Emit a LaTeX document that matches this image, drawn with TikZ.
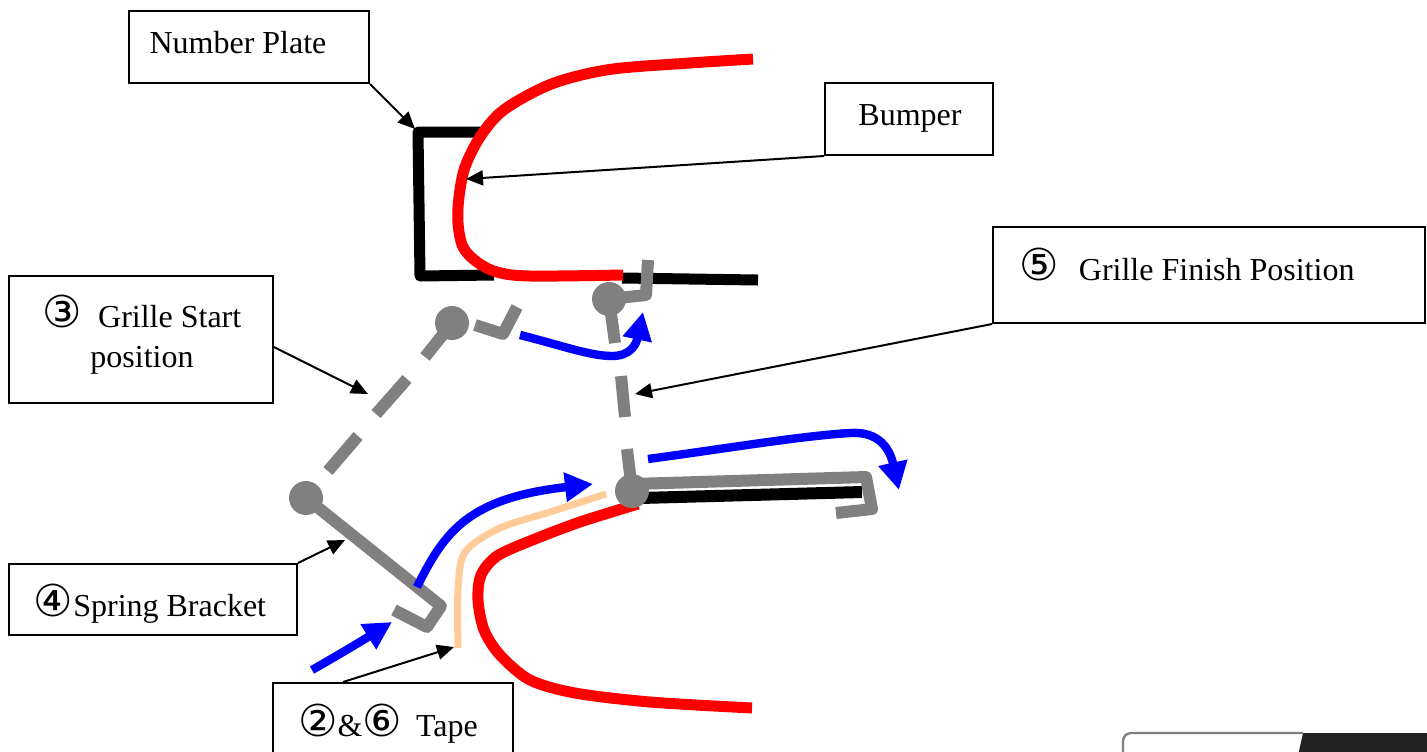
\documentclass[tikz,border=0pt]{standalone}
\usepackage{fontspec}
\setmainfont{Liberation Serif}
\newfontfamily\circfont{DejaVu Sans}
\usetikzlibrary{arrows.meta, positioning}
\newcommand{\numcirc}[1]{{\circfont\fontsize{22}{20}\selectfont #1}}
\definecolor{tapecol}{HTML}{FFCC99}

\begin{document}
\begin{tikzpicture}[x=0.5pt,y=-0.5pt,font=\fontsize{16}{20}\selectfont]
    \tikzstyle{box}=[shape=rectangle,draw,line width=1pt,inner sep=0pt]
    \tikzstyle{txt}=[inner sep=0pt,align=center]
    \tikzstyle{pointer}=[draw,line width=1pt,-{Triangle[length=8.5pt,width=7.5pt]}]
    \tikzstyle{bumperline}=[draw=red,line width=5.5pt]
    \tikzstyle{blackline}=[draw=black,line width=5.5pt]
    \tikzstyle{grille}=[draw=gray,line width=6pt,line join=round]
    \tikzstyle{move}=[draw=blue,line width=4.2pt,-{Triangle[length=14pt,width=14pt]}]
    \tikzstyle{pivot}=[shape=circle,fill=gray,minimum size=17pt,inner sep=0pt]

    \useasboundingbox (0,0) rectangle (1427,751);

    % number plate and upper bumper
    \draw[blackline,line join=round] (480,132) -- (418,132) -- (420,276) -- (494,275);
    \draw[blackline] (622,278) -- (758,280);
    \draw[bumperline] plot[smooth,tension=0.55] coordinates {(753,59) (690,63) (613,69) (563,80) (530,94)
      (500,113) (480,137) (465,167) (459,197) (458,223) (463,247) (477,262) (497,272) (530,276) (623,275)};

    % lower bumper and tape
    \draw[blackline,line width=6pt] (640,498) -- (862,492);
    \draw[bumperline] plot[smooth,tension=0.5] coordinates {(638,504) (580,522) (530,541) (497,556)
      (481,575) (478,600) (484,630) (500,655) (530,680) (575,693) (650,702) (752,708)};
    \draw[draw=tapecol,line width=3.5pt,line join=round] plot[smooth,tension=0.5] coordinates {(458,648) (458,590)
      (465,552) (500,528) (550,512) (606,494)};

    % grille, start position
    \draw[grille] (306,498) -- (441,606) -- (427,627) -- (394,610);
    \draw[grille] (328,471) -- (358,436);
    \draw[grille] (376,414) -- (407,379);
    \draw[grille] (425,357) -- (452,323);
    \draw[grille] (475,325) -- (503,334) -- (517,307);
    \node[pivot] (P1) at (306,498) {};
    \node[pivot] (P2) at (452,323) {};

    % grille, finish position
    \draw[grille] (609,299) -- (615,343);
    \draw[grille] (621,376) -- (625,417);
    \draw[grille] (627,449) -- (632,491);
    \draw[grille] (609,299) -- (646,295) -- (648,260);
    \draw[grille] (632,484) -- (866,477) -- (872,509) -- (836,513);
    \node[pivot] (P3) at (609,299) {};
    \node[pivot] (P4) at (632,491) {};

    % movement
    \draw[move] (312,670) .. controls (340,654) and (360,642) .. (392,622);
    \draw[move] (417,587) .. controls (445,530) and (470,498) .. (593,484);
    \draw[move] (520,335) .. controls (560,345) and (590,356) .. (612,356) .. controls (630,356) and (636,345) .. (643,312);
    \draw[move] (648,459) .. controls (730,448) and (800,436) .. (850,433) .. controls (880,431) and (890,450) .. (899,490);

    % labels
    \node[box,minimum width=120pt,minimum height=36pt] (plateBox) at (249,47) {};
    \node[txt] (plateTxt) at (238,43) {Number Plate};
    \node[box,minimum width=84pt,minimum height=36pt] (bumperBox) at (909,119) {};
    \node[txt] (bumperTxt) at (910,118) {Bumper};
    \node[box,minimum width=132pt,minimum height=63.5pt] (startBox) at (141,339.5) {};
    \node[txt] (startTxt) at (142,335) {\numcirc{③}\hspace{8pt}Grille Start\\position};
    \node[box,minimum width=216pt,minimum height=48pt] (finishBox) at (1209,275) {};
    \node[txt] (finishTxt) at (1187,264) {\numcirc{⑤}\hspace{10pt}Grille Finish Position};
    \node[box,minimum width=144pt,minimum height=35.5pt] (springBox) at (153,599.5) {};
    \node[txt] (springTxt) at (150,604) {\numcirc{④}Spring Bracket};
    \node[box,minimum width=120pt,minimum height=50pt] (tapeBox) at (393,733) {};
    \node[txt] (tapeTxt) at (388,724) {\numcirc{②}\&\numcirc{⑥}\hspace{7pt}Tape};

    \coordinate (plateTip) at (415,129);
    \coordinate (bumperTip) at (466,179);
    \coordinate (startTip) at (368,394);
    \coordinate (finishTip) at (635,394);
    \coordinate (springTip) at (345,540);
    \coordinate (tapeTip) at (454,647);

    \path[pointer] (plateBox.south east) -- (plateTip);
    \path[pointer] (bumperBox.south west) -- (bumperTip);
    \path[pointer] ([yshift=-3.75pt]startBox.east) -- (startTip);
    \path[pointer] (finishBox.south west) -- (finishTip);
    \path[pointer] (springBox.north east) -- (springTip);
    \path[pointer] ([xshift=-25pt]tapeBox.north) -- (tapeTip);

    % corner of the logo, cut by the page edge
    \fill[fill=black!87] (1303,733) -- (1427,733) -- (1427,760) -- (1297,760) -- cycle;
    \draw[draw=gray,line width=1.2pt,rounded corners=4pt] (1123,760) -- (1123,733) -- (1303,733);
\end{tikzpicture}
\end{document}
